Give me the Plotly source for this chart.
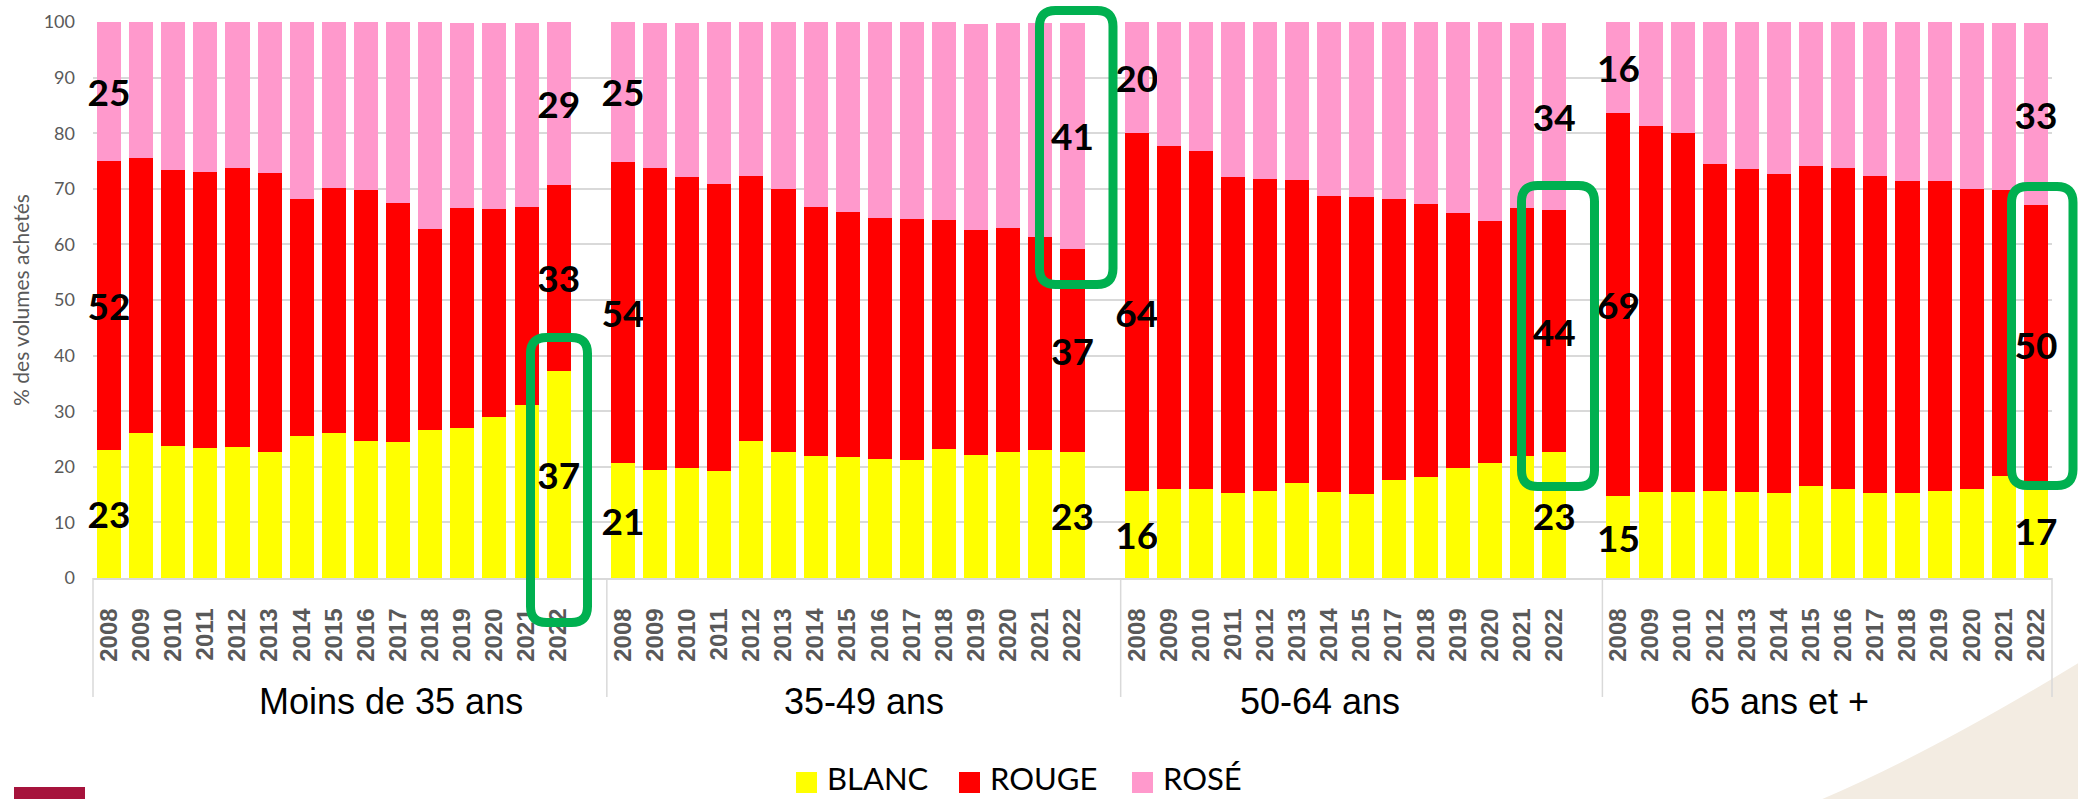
import plotly.graph_objects as go
from plotly.subplots import make_subplots

# valeurs (% des volumes achetés)
groupes = ["Moins de 35 ans", "35-49 ans", "50-64 ans", "65 ans et +"]

annees_moins35 = ["2008", "2009", "2010", "2011", "2012", "2013", "2014", "2015",
                  "2016", "2017", "2018", "2019", "2020", "2021", "2022"]
annees_35_49 = ["2008", "2009", "2010", "2011", "2012", "2013", "2014", "2015",
                "2016", "2017", "2018", "2019", "2020", "2021", "2022"]
annees_50_64 = ["2008", "2009", "2010", "2011", "2012", "2013", "2014", "2015",
                "2017", "2018", "2019", "2020", "2021", "2022"]
annees_65plus = ["2008", "2009", "2010", "2012", "2013", "2014", "2015", "2016",
                 "2017", "2018", "2019", "2020", "2021", "2022"]

blanc_moins35 = [23.05, 26.1, 23.8, 23.3, 23.5, 22.75, 25.6, 26.1, 24.6, 24.4, 26.6, 26.95, 28.9, 31.2, 37.3]
rouge_moins35 = [51.95, 49.5, 49.55, 49.7, 50.3, 50.15, 42.6, 44.0, 45.15, 43.0, 36.1, 39.55, 37.5, 35.5, 33.4]
rose_moins35 = [25.0, 24.4, 26.65, 27.0, 26.2, 27.1, 31.8, 29.9, 30.25, 32.6, 37.3, 33.4, 33.4, 33.2, 29.3]

blanc_35_49 = [20.6, 19.45, 19.75, 19.25, 24.7, 22.75, 21.95, 21.7, 21.35, 21.3, 23.15, 22.1, 22.7, 23.0, 22.6]
rouge_35_49 = [54.3, 54.25, 52.35, 51.55, 47.6, 47.3, 44.75, 44.2, 43.45, 43.2, 41.15, 40.5, 40.3, 38.3, 36.6]
rose_35_49 = [25.1, 26.2, 27.8, 29.4, 27.7, 29.95, 33.3, 34.1, 35.2, 35.5, 35.7, 37.0, 36.8, 38.6, 40.7]

blanc_50_64 = [15.6, 15.95, 15.95, 15.3, 15.7, 17.0, 15.4, 15.05, 17.65, 18.2, 19.8, 20.65, 22.0, 22.6]
rouge_50_64 = [64.4, 61.75, 60.85, 56.8, 56.0, 54.55, 53.3, 53.55, 50.45, 49.0, 45.8, 43.55, 44.5, 43.6]
rose_50_64 = [20.0, 22.3, 23.2, 27.9, 28.3, 28.45, 31.3, 31.4, 31.9, 32.8, 34.4, 35.8, 33.4, 33.7]

blanc_65plus = [14.7, 15.55, 15.55, 15.6, 15.4, 15.2, 16.6, 16.0, 15.3, 15.3, 15.7, 15.95, 18.3, 17.0]
rouge_65plus = [68.9, 65.75, 64.55, 58.95, 58.1, 57.4, 57.5, 57.8, 57.0, 56.05, 55.65, 54.1, 51.45, 50.1]
rose_65plus = [16.4, 18.7, 19.9, 25.45, 26.5, 27.4, 25.9, 26.2, 27.7, 28.65, 28.65, 29.85, 30.15, 32.7]

couleurs = ["BLANC", "ROUGE", "ROSÉ"]
teintes = ["#FFFF00", "#FF0000", "#FF99CC"]

donnees = [
    (annees_moins35, [blanc_moins35, rouge_moins35, rose_moins35]),
    (annees_35_49, [blanc_35_49, rouge_35_49, rose_35_49]),
    (annees_50_64, [blanc_50_64, rouge_50_64, rose_50_64]),
    (annees_65plus, [blanc_65plus, rouge_65plus, rose_65plus]),
]

# nombre de cases par groupe sur l'axe (une case vide après les trois premiers)
cases = [16, 16, 15, 14]

W, H = 2078, 799
L, R, T, B = 93, 2052, 22, 578
GRIS = "#595959"
VERT = "#00B050"


def px2paper(x, y):
    return (x - L) / (R - L), (B - y) / (B - T)


def rounded_box(x0, y0, x1, y1, r=16):
    path = ""
    seq = [("M", [(x0 + r, y0)]), ("L", [(x1 - r, y0)]), ("Q", [(x1, y0), (x1, y0 + r)]),
           ("L", [(x1, y1 - r)]), ("Q", [(x1, y1), (x1 - r, y1)]), ("L", [(x0 + r, y1)]),
           ("Q", [(x0, y1), (x0, y1 - r)]), ("L", [(x0, y0 + r)]), ("Q", [(x0, y0), (x0 + r, y0)])]
    for cmd, p in seq:
        coords = " ".join("%.5f,%.5f" % px2paper(*q) for q in p)
        path += "%s %s " % (cmd, coords)
    return path + "Z"


def labels_bouts(vals):
    return [f"{v:.0f}" if i in (0, len(vals) - 1) else "" for i, v in enumerate(vals)]


fig = make_subplots(rows=1, cols=4, shared_yaxes=True, horizontal_spacing=0,
                    column_widths=cases)

for col, (annees, series) in enumerate(donnees, start=1):
    for nom, teinte, vals in zip(couleurs, teintes, series):
        fig.add_trace(go.Bar(
            x=annees, y=vals, name=nom, marker=dict(color=teinte, line=dict(width=0)),
            text=labels_bouts(vals), textposition="inside", insidetextanchor="middle",
            textangle=0, constraintext="none", cliponaxis=False,
            insidetextfont=dict(family="Lato, Noto Sans, sans-serif", size=37, color="black", weight="bold"),
            showlegend=False, hoverinfo="x+y+name"), row=1, col=col)
    fig.update_xaxes(type="category", categoryorder="array", categoryarray=annees,
                     range=[-0.5, cases[col - 1] - 0.5], row=1, col=col)

fig.update_xaxes(showline=True, linecolor="#D9D9D9", linewidth=1.5, ticks="",
                 tickangle=-90, ticklabelstandoff=19, showgrid=False, automargin=False,
                 tickfont=dict(family="Liberation Sans, Arial, sans-serif", size=24, color=GRIS, weight="bold"))
fig.update_yaxes(range=[0, 100], dtick=10, showgrid=True, gridcolor="#D9D9D9", gridwidth=1.5,
                 zeroline=False, showline=False, automargin=False,
                 tickfont=dict(family="Lato, Noto Sans, sans-serif", size=18, color=GRIS))
fig.update_yaxes(ticklabelstandoff=17,
                 title=dict(text="% des volumes achetés", standoff=8,
                            font=dict(family="Lato, Noto Sans, sans-serif", size=21, color=GRIS)),
                 row=1, col=1)

shapes = []
# fond décoratif en bas à droite et logo
bx = [(1808, 805), (1925, 757), (2085, 659), (2085, 805)]
p = [px2paper(*q) for q in bx]
shapes.append(dict(type="path", xref="paper", yref="paper", layer="below",
                   path="M %f,%f Q %f,%f %f,%f L %f,%f Z" % (p[0] + p[1] + p[2] + p[3]),
                   fillcolor="#F3ECE2", line=dict(width=0)))
x0, y0 = px2paper(14, 787)
x1, y1 = px2paper(85, 805)
shapes.append(dict(type="rect", xref="paper", yref="paper", x0=x0, y0=y0, x1=x1, y1=y1,
                   fillcolor="#A6133C", line=dict(width=0)))

# séparateurs de groupes
bornes = [0]
for n in cases:
    bornes.append(bornes[-1] + n)
y_bas = px2paper(0, 697)[1]
for b in bornes:
    xb = b / bornes[-1]
    shapes.append(dict(type="line", xref="paper", yref="paper", x0=xb, x1=xb, y0=0, y1=y_bas,
                       line=dict(color="#D9D9D9", width=1.5)))

# encadrés verts
for box in [(530.5, 337.5, 587.5, 622.5), (1039.5, 10.5, 1113, 284.5),
            (1521.5, 185.5, 1594.5, 486.5), (2011.5, 186.5, 2073, 485.5)]:
    shapes.append(dict(type="path", xref="paper", yref="paper", layer="above",
                       path=rounded_box(*box), line=dict(color=VERT, width=9)))

annotations = []
for g, cx in zip(groupes, [391, 864, 1320, 1779]):
    ax, ay = px2paper(cx, 701)
    annotations.append(dict(text=g, x=ax, y=ay, xref="paper", yref="paper", showarrow=False,
                            xanchor="center", yanchor="middle",
                            font=dict(family="Liberation Sans, Arial, sans-serif", size=36, color="black")))

# légende
for nom, teinte, xs in zip(couleurs, teintes, [796, 959, 1132]):
    a0, b0 = px2paper(xs, 772)
    a1, b1 = px2paper(xs + 21, 793)
    shapes.append(dict(type="rect", xref="paper", yref="paper", x0=a0, y0=b0, x1=a1, y1=b1,
                       fillcolor=teinte, line=dict(width=0)))
    tx, ty = px2paper(xs + 30, 798)
    annotations.append(dict(text=nom, x=tx, y=ty, xref="paper", yref="paper", showarrow=False,
                            xanchor="left", yanchor="bottom", borderpad=0,
                            font=dict(family="Lato, Noto Sans, sans-serif", size=31, color="black")))

fig.update_layout(
    width=W, height=H, barmode="stack", bargap=0.25,
    margin=dict(l=L, r=W - R, t=T, b=H - B, pad=0),
    plot_bgcolor="white", paper_bgcolor="white",
    shapes=shapes, annotations=annotations, showlegend=False,
)

# la page sans marge, pour que la figure commence au coin de la fenêtre
fig.write_html("out.html", config={"displayModeBar": False},
               post_script="document.body.style.margin='0';document.body.style.overflow='hidden';")
